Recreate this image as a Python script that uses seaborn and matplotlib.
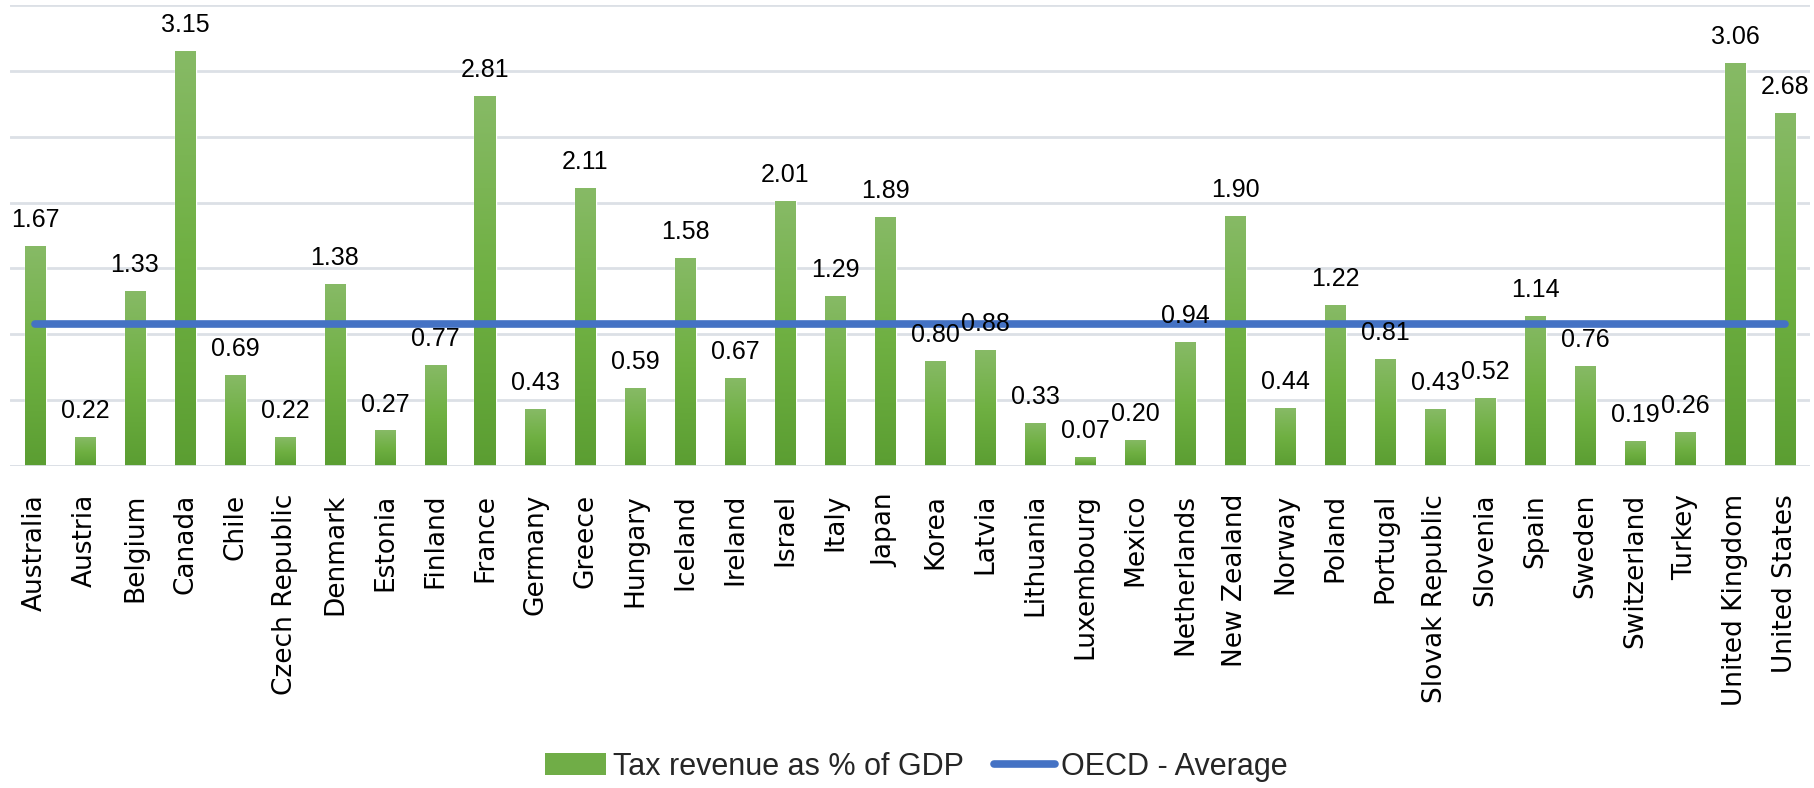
import numpy as np
import pandas as pd
import matplotlib
matplotlib.use("Agg")
import matplotlib.pyplot as plt
import seaborn as sns
from matplotlib.patches import Patch
from matplotlib.lines import Line2D
from matplotlib.colors import LinearSegmentedColormap

countries = ["Australia", "Austria", "Belgium", "Canada", "Chile", "Czech Republic",
             "Denmark", "Estonia", "Finland", "France", "Germany", "Greece", "Hungary",
             "Iceland", "Ireland", "Israel", "Italy", "Japan", "Korea", "Latvia",
             "Lithuania", "Luxembourg", "Mexico", "Netherlands", "New Zealand", "Norway",
             "Poland", "Portugal", "Slovak Republic", "Slovenia", "Spain", "Sweden",
             "Switzerland", "Turkey", "United Kingdom", "United States"]
tax_revenue = [1.67, 0.22, 1.33, 3.15, 0.69, 0.22, 1.38, 0.27, 0.77, 2.81, 0.43, 2.11,
               0.59, 1.58, 0.67, 2.01, 1.29, 1.89, 0.80, 0.88, 0.33, 0.07, 0.20, 0.94,
               1.90, 0.44, 1.22, 0.81, 0.43, 0.52, 1.14, 0.76, 0.19, 0.26, 3.06, 2.68]
oecd_average = 1.08
series_names = ["Tax revenue as % of GDP", "OECD - Average"]

df = pd.DataFrame({"country": countries, "tax": tax_revenue,
                   "avg": [oecd_average] * len(countries)})

sns.set_theme(style="white")
plt.rcParams["font.family"] = ["Liberation Sans", "DejaVu Sans"]

W, H = 1815, 788
fig = plt.figure(figsize=(W / 100, H / 100), dpi=100)
ax = fig.add_axes([10 / W, 1 - 466 / H, 1800 / W, 461 / H])

sns.barplot(data=df, x="country", y="tax", color="#70AD47", width=0.42,
            saturation=1, ax=ax, zorder=2)

# gradient fill on bars
cmap = LinearSegmentedColormap.from_list("g", ["#5B9E32", "#6FB042", "#87BA66"])
grad = np.linspace(0, 1, 256).reshape(-1, 1)
for p in ax.patches:
    x0, y0 = p.get_x(), p.get_y()
    w, h = p.get_width(), p.get_height()
    im = ax.imshow(grad, extent=[x0, x0 + w, y0, y0 + h], origin="lower",
                   cmap=cmap, aspect="auto", zorder=2.1, interpolation="bilinear")
    im.set_clip_path(p)

sns.lineplot(data=df, x="country", y="avg", color="#4472C4", linewidth=5.5,
             ax=ax, zorder=4, solid_capstyle="round", sort=False)

ax.set_ylim(0, 3.5)
ax.set_xlim(-0.5, len(countries) - 0.5)
ax.set_yticks(np.arange(0, 3.51, 0.5))
ax.yaxis.grid(True, color="#DCE0E6", linewidth=2)
ax.set_axisbelow(True)
ax.axhline(0, color="#DCE0E6", linewidth=2, zorder=3)
ax.tick_params(left=False, labelleft=False, bottom=False, pad=14)
for s in ax.spines.values():
    s.set_visible(False)
ax.set_xlabel("")
ax.set_ylabel("")
ax.set_xticks(range(len(countries)))
ax.set_xticklabels(countries, rotation=90, fontsize=19, family=["DejaVu Sans"],
                   color="#000000")

for i, v in enumerate(tax_revenue):
    ax.annotate(f"{v:.2f}", (i, v), xytext=(0, 10), textcoords="offset points",
                ha="center", va="bottom", fontsize=18, color="#000000", zorder=6)

handles = [Patch(facecolor="#70AD47", edgecolor="none"),
           Line2D([0], [0], color="#4472C4", linewidth=5.5, solid_capstyle="round")]
fig.legend(handles, series_names, loc="center", bbox_to_anchor=(0.505, 0.027),
           ncol=2, frameon=False, fontsize=22, handlelength=2.0,
           handletextpad=0.2, columnspacing=1.0, handleheight=0.7)

fig.savefig("out.png", dpi=100)
